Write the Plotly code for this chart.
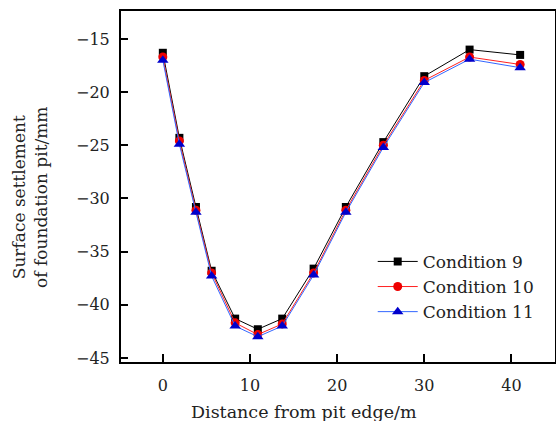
import plotly.graph_objects as go

distance = [0, 1.9, 3.8, 5.6, 8.3, 10.9, 13.7, 17.3, 21.0, 25.3, 30.0, 35.2, 41.0]
cond9 = [-16.3, -24.3, -30.8, -36.8, -41.3, -42.3, -41.3, -36.6, -30.8, -24.7, -18.5, -16.0, -16.5]
cond10 = [-16.7, -24.6, -31.1, -37.0, -41.7, -42.8, -41.8, -37.0, -31.1, -25.0, -18.9, -16.7, -17.4]
cond11 = [-17.0, -24.9, -31.3, -37.3, -42.0, -43.0, -42.0, -37.2, -31.3, -25.2, -19.1, -16.9, -17.7]

x_ticks = [0, 10, 20, 30, 40]
y_ticks = [-15, -20, -25, -30, -35, -40, -45]

FONT = "DejaVu Serif"

fig = go.Figure()
fig.add_trace(go.Scatter(x=distance, y=cond9, mode="lines+markers", name="Condition 9",
                         line=dict(color="black", width=1),
                         marker=dict(symbol="square", size=8, color="black")))
fig.add_trace(go.Scatter(x=distance, y=cond10, mode="lines+markers", name="Condition 10",
                         line=dict(color="#ff2020", width=1),
                         marker=dict(symbol="circle", size=9, color="#ee0000")))
fig.add_trace(go.Scatter(x=distance, y=cond11, mode="lines+markers", name="Condition 11",
                         line=dict(color="#3366ff", width=1),
                         marker=dict(symbol="triangle-up", size=10, color="#0000cc")))

fig.update_layout(
    width=556, height=421,
    margin=dict(l=121, r=1, t=11, b=59),
    paper_bgcolor="white", plot_bgcolor="white",
    font=dict(family=FONT, size=16, color="#222"),
    showlegend=True,
    legend=dict(x=0.58, y=0.214, xanchor="left", yanchor="middle",
                bgcolor="rgba(0,0,0,0)", font=dict(family=FONT, size=17, color="#222"),
                itemwidth=40, tracegroupgap=0),
    xaxis=dict(range=[-4.8, 45.0], tickmode="array", tickvals=x_ticks,
               ticks="inside", ticklen=8, tickwidth=2, tickcolor="black",
               showline=True, linewidth=2, linecolor="black", mirror=True,
               showgrid=False, zeroline=False, ticklabelstandoff=8, automargin=False),
    yaxis=dict(range=[-45.38, -12.37], tickmode="array", tickvals=y_ticks,
               ticktext=["\u221215", "\u221220", "\u221225", "\u221230", "\u221235", "\u221240", "\u221245"],
               ticks="inside", ticklen=7, tickwidth=2, tickcolor="black",
               showline=True, linewidth=2, linecolor="black", mirror=True,
               showgrid=False, zeroline=False, ticklabelstandoff=6, automargin=False),
    annotations=[
        dict(text="Surface settlement<br>of foundation pit/mm", textangle=-90,
             x=-0.21, y=0.47, xref="paper", yref="paper", xanchor="center", yanchor="middle",
             showarrow=False, font=dict(family=FONT, size=17, color="#222")),
        dict(text="Distance from pit edge/m", x=0.5, y=-0.108, xref="paper", yref="paper",
             xanchor="center", yanchor="top", xshift=-34,
             showarrow=False, font=dict(family=FONT, size=17.5, color="#222")),
    ],
)

fig.write_html("out.html", config={"displayModeBar": False},
               post_script="document.body.style.margin='0';")
